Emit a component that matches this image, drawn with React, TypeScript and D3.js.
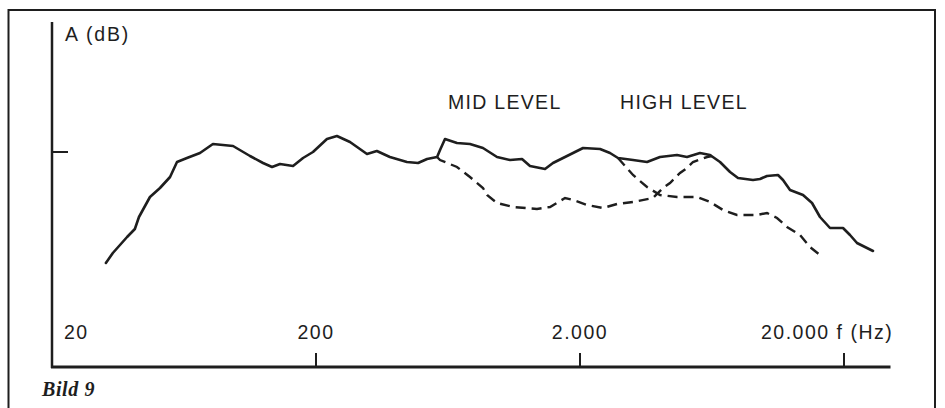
import React from 'react';
import * as d3 from 'd3';

// frequency (Hz) / level (dB rel. reference tick)
const mainFreq = [32, 34, 38.5, 41.2, 42.7, 47, 51.3, 56, 59.5, 64.9, 72.7, 81.4, 97, 112.5, 126, 136.3, 146.1, 163.7, 178.6, 194.8, 220, 240, 269, 312, 340, 381, 442, 487, 527, 575, 590, 616, 684, 766, 858, 970, 1086, 1206, 1293, 1474, 1580, 1786, 2054, 2382, 2598, 2786, 3176, 3588, 4018, 4660, 5084, 5696, 6216, 6782, 7402, 7934, 9042, 9612, 10216, 11246, 11748, 12490, 13990, 15132, 16222, 17702, 19826, 21072, 22398, 25752];
const mainLevel = [-22.2, -20.2, -17, -15.4, -13, -9, -7.2, -5, -2, -1.2, -0.2, 1.6, 1.2, -0.8, -2.2, -3, -2.4, -2.8, -1.2, 0, 2.6, 3.2, 2, -0.4, 0.2, -1, -2, -2.2, -1.4, -1, 0.4, 2.6, 1.8, 1.6, 0.8, -1, -1.6, -1.4, -2.8, -3.4, -2.2, -0.8, 0.8, 0.6, -0.2, -1.2, -1.6, -2, -1, -0.6, -1, -0.2, -0.6, -2, -4, -5.2, -5.6, -5.4, -4.8, -4.6, -5.6, -7.6, -8.6, -10.2, -13, -15.2, -15.2, -16.6, -18.2, -19.8];

const midFreq = [575, 590, 684, 766, 858, 889, 970, 1115, 1374, 1540, 1755, 1882, 2126, 2444, 2762, 3176, 3780, 4126, 4384, 4784, 5084, 5358, 6056, 6325];
const midLevel = [-1, -1.6, -3, -5, -7.2, -8.6, -10.2, -11, -11.4, -11, -9.2, -9.6, -10.6, -11.2, -10.4, -10, -9.2, -7.2, -6.2, -4.2, -3.2, -2, -1, -0.8];

const highFreq = [2786, 3176, 3588, 4018, 4660, 5550, 6216, 6962, 7864, 9364, 10216, 11150, 12166, 13626, 14864, 16222];
const highLevel = [-1.2, -4.6, -7, -8.6, -9, -9, -10, -11.6, -12.6, -12.6, -12.2, -13.2, -15, -16.6, -19, -20.6];

const tickFreqs = [20, 200, 2000, 20000];
const tickLabels = ['20', '200', '2.000', '20.000 f (Hz)'];
const seriesNames = ['MID LEVEL', 'HIGH LEVEL'];

const W = 945;
const H = 408;
const ink = '#1e1e1e';
const font = '"Liberation Sans", Arial, sans-serif';

export default function App() {
  const x = d3.scaleLog().domain([20, 30000]).range([52, 890.5]);
  const y = d3.scaleLinear().domain([-43, 26]).range([367, 22]);

  const line = d3
    .line<[number, number]>()
    .x((d) => x(d[0]))
    .y((d) => y(d[1]))
    .curve(d3.curveLinear);

  const zip = (f: number[], l: number[]) => f.map((v, i) => [v, l[i]] as [number, number]);

  // label placement relative to tick (x offset, anchor)
  const labelPos: [number, string][] = [[12, 'start'], [0, 'middle'], [0, 'middle'], [-83, 'start']];

  return (
    <svg width={W} height={H} style={{ position: 'absolute', left: 0, top: 0, background: '#fff' }}>
      {/* frame */}
      <path d={`M8.5,${H} V10 H935 V${H}`} fill="none" stroke={ink} strokeWidth={2} />

      {/* axes */}
      <line x1={x(20)} x2={x(20)} y1={22} y2={y(-43) + 1} stroke={ink} strokeWidth={2.5} />
      <line x1={x(20) - 1} x2={x(30000)} y1={y(-43)} y2={y(-43)} stroke={ink} strokeWidth={3} />
      <line x1={x(20)} x2={x(20) + 16} y1={y(0)} y2={y(0)} stroke={ink} strokeWidth={2} />
      {tickFreqs.slice(1).map((f) => (
        <line key={f} x1={x(f)} x2={x(f)} y1={y(-43) - 14} y2={y(-43)} stroke={ink} strokeWidth={2} />
      ))}
      {tickLabels.map((t, i) => (
        <text
          key={t}
          x={x(tickFreqs[i]) + labelPos[i][0]}
          y={339}
          textAnchor={labelPos[i][1] as any}
          fontFamily={font}
          fontSize={19.5}
          letterSpacing={1.5}
          fill={ink}
        >
          {t}
        </text>
      ))}
      <text x={65} y={41} fontFamily={font} fontSize={19.5} letterSpacing={1.8} fill={ink}>
        A (dB)
      </text>

      {/* curves */}
      <path d={line(zip(mainFreq, mainLevel)) || ''} fill="none" stroke={ink} strokeWidth={2.6} strokeLinejoin="round" strokeLinecap="round" />
      <path d={line(zip(midFreq, midLevel)) || ''} fill="none" stroke={ink} strokeWidth={2.4} strokeDasharray="10 6" />
      <path d={line(zip(highFreq, highLevel)) || ''} fill="none" stroke={ink} strokeWidth={2.4} strokeDasharray="10 6" />

      <text x={448} y={109} fontFamily={font} fontSize={19.5} letterSpacing={1.3} fill={ink}>
        {seriesNames[0]}
      </text>
      <text x={620} y={109} fontFamily={font} fontSize={19.5} letterSpacing={1.3} fill={ink}>
        {seriesNames[1]}
      </text>

      <text x={42} y={396} fontFamily='"Liberation Serif", "Times New Roman", serif' fontSize={20} fontWeight="bold" fontStyle="italic" letterSpacing={0.6} fill={ink}>
        Bild 9
      </text>
    </svg>
  );
}
